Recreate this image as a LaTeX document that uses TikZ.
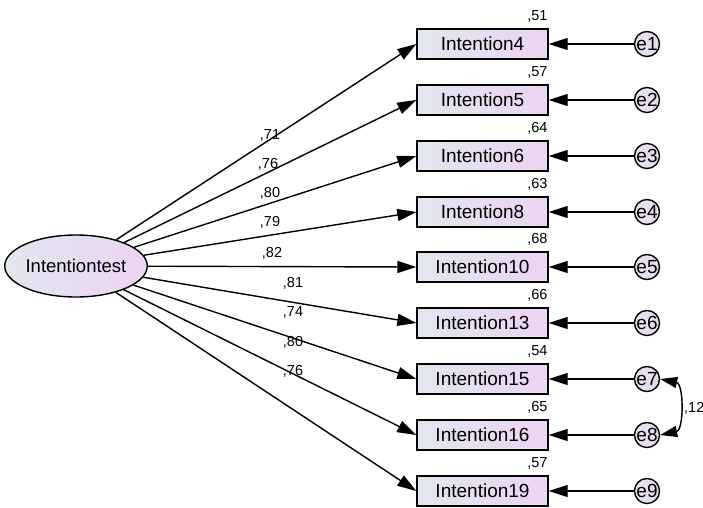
\documentclass[tikz,border=0pt]{standalone}
\usepackage{fontspec}
\setmainfont{Liberation Sans}
\usetikzlibrary{arrows.meta,shapes.geometric}
\definecolor{fl}{HTML}{E2E6F0}
\definecolor{fr}{HTML}{ECD4F2}
\tikzset{
  obs/.style={draw,line width=1.4pt,minimum width=131pt,minimum height=30pt,inner sep=0pt,
    left color=fl,right color=fr,font=\fontsize{19}{19}\selectfont},
  err/.style={circle,draw,line width=1.4pt,minimum size=25pt,inner sep=0pt,
    left color=fl,right color=fr,font=\fontsize{19}{19}\selectfont},
  lat/.style={ellipse,draw,line width=1.4pt,minimum width=136pt,minimum height=62pt,inner sep=0pt,
    left color=fl,right color=fr,font=\fontsize{18.5}{18.5}\selectfont},
  arr/.style={line width=1.4pt,-{Triangle[length=19pt,width=12pt]}},
  lbl/.style={font=\fontsize{14.5}{14.5}\selectfont,inner sep=0pt},
}
\begin{document}
\begin{tikzpicture}[x=1pt,y=-1pt]
\useasboundingbox (0,0) rectangle (703,507);
\node[lat] (L) at (76,266) {Intentiontest};
\foreach \i/\n/\y/\r in {1/4/44/51,2/5/100/57,3/6/156/64,4/8/212/63,5/10/267/68,6/13/323/66,7/15/379/54,8/16/435/65,9/19/491/57}{
  \node[obs] (b\i) at (482.5,\y) {Intention\n};
  \node[err] (e\i) at (647,\y) {e\i};
  \node[lbl,anchor=base east] (r\i) at ([yshift=8pt,xshift=-1pt]b\i.north east) {,\r};
  \draw[arr] (e\i) -- (b\i);
  \draw[arr] (L) -- (b\i.west);
}
\node[lbl] (w1) at (270,135) {,71};
\node[lbl] (w2) at (268,164) {,76};
\node[lbl] (w3) at (270,193) {,80};
\node[lbl] (w4) at (270,222) {,79};
\node[lbl] (w5) at (272,253) {,82};
\node[lbl] (w6) at (293,283) {,81};
\node[lbl] (w7) at (293,312) {,74};
\node[lbl] (w8) at (293,342) {,80};
\node[lbl] (w9) at (293,371) {,76};
\draw[line width=1.4pt,{Triangle[length=17pt,width=11pt]}-{Triangle[length=17pt,width=11pt]}]
  (e7.east) .. controls (684,384) and (684,430) .. (e8.east);
\node[lbl,anchor=west] (c78) at (684,408) {,12};
\end{tikzpicture}
\end{document}
